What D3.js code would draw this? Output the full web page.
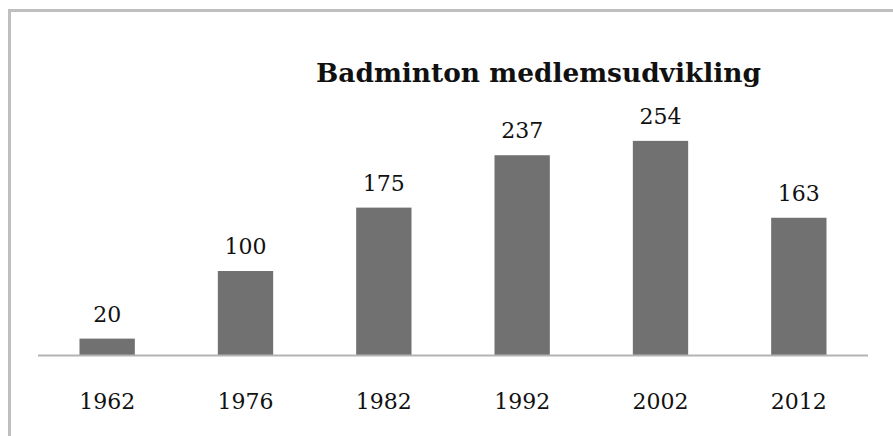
<!DOCTYPE html>
<html>
<head>
<meta charset="utf-8">
<script src="https://cdn.jsdelivr.net/npm/d3@7"></script>
<style>
  body { margin: 0; background: #fff; }
  svg { display: block; }
</style>
</head>
<body>
<script>
// data
let years = ["1962", "1976", "1982", "1992", "2002", "2012"];
let members = [20, 100, 175, 237, 254, 163];
let title = "Badminton medlemsudvikling";

let width = 893, height = 436;
let left = 38, right = 868, base = 355.5;

let viz = d3.select("body")
  .append("svg")
    .attr("width", width)
    .attr("height", height)
    .style("background-color", "white");

// frame, runs off the right and bottom edge
viz.append("rect")
  .attr("x", 9.5).attr("y", 10.5)
  .attr("width", 920).attr("height", 460)
  .attr("fill", "none")
  .attr("stroke", "#bfbfbf")
  .attr("stroke-width", 3);

let x = d3.scaleBand()
  .domain(years)
  .range([left, right])
  .paddingInner(0.6)
  .paddingOuter(0.3);

let y = d3.scaleLinear()
  .domain([0, 300])
  .range([base, base - 253.5]);

let data = years.map((yr, i) => ({year: yr, value: members[i]}));

viz.selectAll(".bar").data(data)
  .enter()
  .append("rect")
    .attr("class", "bar")
    .attr("x", d => x(d.year))
    .attr("y", d => y(d.value))
    .attr("width", x.bandwidth())
    .attr("height", d => y(0) - y(d.value))
    .attr("fill", "#717171");

// baseline
viz.append("line")
  .attr("x1", left).attr("x2", right)
  .attr("y1", base).attr("y2", base)
  .attr("stroke", "#b3b3b3")
  .attr("stroke-width", 2);

// value labels
viz.selectAll(".val").data(data)
  .enter()
  .append("text")
    .attr("class", "val")
    .attr("x", d => x(d.year) + x.bandwidth() / 2)
    .attr("y", d => y(d.value) - 17)
    .attr("text-anchor", "middle")
    .style("font-family", "DejaVu Serif")
    .style("font-size", "22px")
    .attr("fill", "#111")
    .text(d => d.value);

// year labels
let xAxis = d3.axisBottom(x).tickSize(0).tickPadding(0);
let ax = viz.append("g")
  .attr("transform", "translate(0," + base + ")")
  .call(xAxis);
ax.select(".domain").remove();
ax.selectAll("text")
  .attr("y", 53.5)
  .attr("dy", null)
  .style("font-family", "DejaVu Serif")
  .style("font-size", "22px")
  .attr("fill", "#111");

viz.append("text")
  .attr("x", 538.5)
  .attr("y", 82)
  .attr("text-anchor", "middle")
  .style("font-family", "DejaVu Serif")
  .style("font-weight", "bold")
  .style("font-size", "26.4px")
  .attr("fill", "#111")
  .text(title);
</script>
</body>
</html>
